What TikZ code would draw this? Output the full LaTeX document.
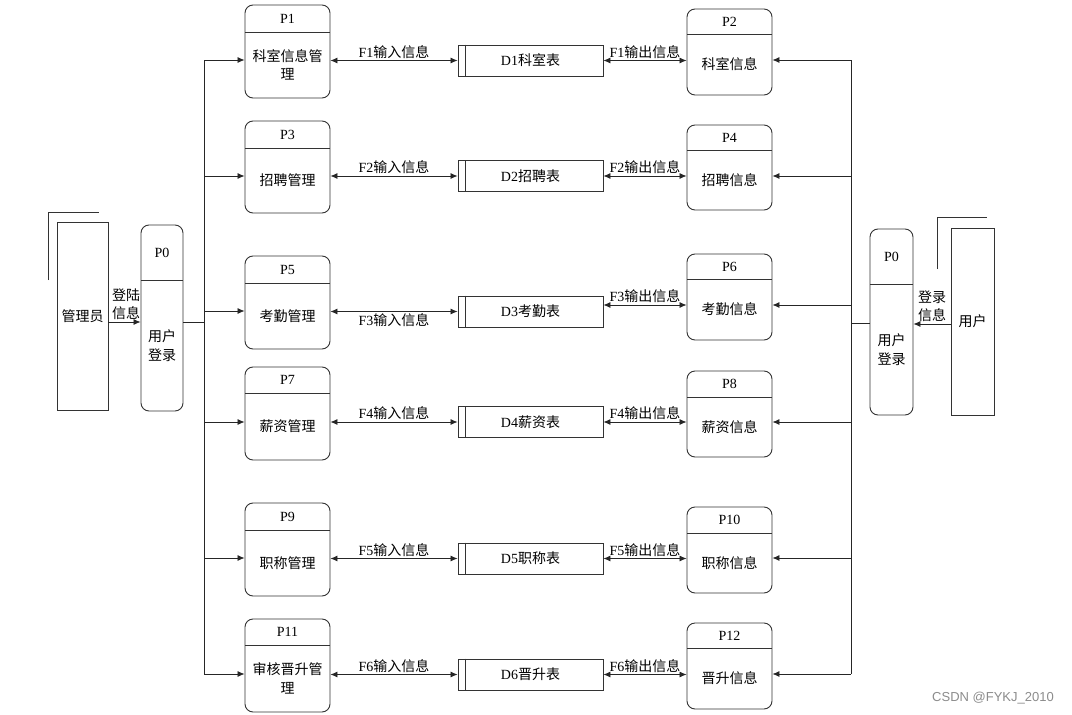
\documentclass[tikz,border=0pt]{standalone}
\usepackage{fontspec}
\setmainfont{Liberation Serif}
\newfontfamily\cjk{Noto Sans CJK SC}
\newfontfamily\wmfont{Liberation Sans}
\usetikzlibrary{arrows.meta}
\newcommand\zh[1]{{\cjk #1}}
\tikzset{
  boxline/.style={draw=black!80, line width=0.9pt},
  procbox/.style={boxline, rectangle, rounded corners=8pt, inner sep=0pt},
  extbox/.style={boxline, rectangle, inner sep=0pt},
  dstore/.style={boxline, rectangle, inner sep=0pt, minimum width=145pt, minimum height=31pt},
  ptitle/.style={inner sep=0pt},
  pbody/.style={inner sep=0pt, align=center},
  conn/.style={draw=black!85, line width=0.8pt},
  arr/.style={conn, -{Latex[length=7pt,width=6pt]}},
  biarr/.style={conn, {Latex[length=7pt,width=6pt]}-{Latex[length=7pt,width=6pt]}},
  lab/.style={inner sep=1.5pt, align=center},
}
\newcommand\ProcBox[8]{%
  \node[procbox, minimum width={(#4-#2)*1pt}, minimum height={(#5-#3)*1pt}] (#1) at ({(#2+#4)/2},{(#3+#5)/2}) {};
  \draw[boxline] (#2,#6) -- (#4,#6);
  \node[ptitle] (#1t) at ({(#2+#4)/2},{(#3+#6)/2}) {#7};
  \node[pbody] (#1b) at ({(#2+#4)/2},{(#6+#5)/2}) {#8};
}
\newcommand\DStore[4]{%
  \node[dstore] (#1) at (#2,#3) {#4};
  \draw[boxline] ([xshift=8pt]#1.north west) -- ([xshift=8pt]#1.south west);
}
\begin{document}
\begin{tikzpicture}[x=1pt,y=-1pt,font=\fontsize{14}{18.5}\selectfont]
\useasboundingbox[fill=white] (0,0) rectangle (1072,715);

% external entities
\node[extbox, minimum width=51pt, minimum height=188pt] (admin) at (82.5,316) {\zh{管理员}};
\draw[boxline] (48,280) -- (48,212) -- (99,212);
\node[extbox, minimum width=43pt, minimum height=187pt] (user) at (972.5,321.5) {\zh{用户}};
\draw[boxline] (937,269) -- (937,217) -- (987,217);

% login processes
\ProcBox{p0l}{141}{225}{183}{411}{280}{P0}{\zh{用户}\\\zh{登录}}
\ProcBox{p0r}{870}{229}{913}{415}{284}{P0}{\zh{用户}\\\zh{登录}}

% left processes
\ProcBox{p1}{245}{5}{330}{98}{32}{P1}{\zh{科室信息管}\\\zh{理}}
\ProcBox{p3}{245}{121}{330}{213}{148}{P3}{\zh{招聘管理}}
\ProcBox{p5}{245}{256}{330}{349}{283}{P5}{\zh{考勤管理}}
\ProcBox{p7}{245}{367}{330}{460}{393}{P7}{\zh{薪资管理}}
\ProcBox{p9}{245}{503}{330}{596}{530}{P9}{\zh{职称管理}}
\ProcBox{p11}{245}{619}{330}{712}{645}{P11}{\zh{审核晋升管}\\\zh{理}}

% right processes
\ProcBox{p2}{687}{9}{772}{95}{34}{P2}{\zh{科室信息}}
\ProcBox{p4}{687}{125}{772}{210}{150}{P4}{\zh{招聘信息}}
\ProcBox{p6}{687}{254}{772}{340}{279}{P6}{\zh{考勤信息}}
\ProcBox{p8}{687}{371}{772}{457}{397}{P8}{\zh{薪资信息}}
\ProcBox{p10}{687}{507}{772}{593}{533}{P10}{\zh{职称信息}}
\ProcBox{p12}{687}{623}{772}{709}{648}{P12}{\zh{晋升信息}}

% data stores
\DStore{d1}{530.5}{60.5}{D1\zh{科室表}}
\DStore{d2}{530.5}{176}{D2\zh{招聘表}}
\DStore{d3}{530.5}{311.5}{D3\zh{考勤表}}
\DStore{d4}{530.5}{422}{D4\zh{薪资表}}
\DStore{d5}{530.5}{558.5}{D5\zh{职称表}}
\DStore{d6}{530.5}{674.5}{D6\zh{晋升表}}

% login arrows
\coordinate (la) at (108,322);
\draw[arr] (la -| admin.east) -- node[lab, above, pos=0.55] {\zh{登陆}\\\zh{信息}} (la -| p0l.west);
\coordinate (ra) at (951,324);
\draw[arr] (ra -| user.west) -- node[lab, above, pos=0.5] {\zh{登录}\\\zh{信息}} (ra -| p0r.east);

% left trunk
\coordinate (lj) at (204,322);
\coordinate (lt1) at (204,60);
\coordinate (lt2) at (204,176);
\coordinate (lt3) at (204,311);
\coordinate (lt4) at (204,422);
\coordinate (lt5) at (204,558);
\coordinate (lt6) at (204,674);
\draw[conn] (lj -| p0l.east) -- (lj);
\draw[conn] (lt1) -- (lt6);
\draw[arr] (lt1) -- (lt1 -| p1.west);
\draw[arr] (lt2) -- (lt2 -| p3.west);
\draw[arr] (lt3) -- (lt3 -| p5.west);
\draw[arr] (lt4) -- (lt4 -| p7.west);
\draw[arr] (lt5) -- (lt5 -| p9.west);
\draw[arr] (lt6) -- (lt6 -| p11.west);

% right trunk
\coordinate (rj) at (851,323);
\coordinate (rt1) at (851,60);
\coordinate (rt2) at (851,176);
\coordinate (rt3) at (851,305);
\coordinate (rt4) at (851,422);
\coordinate (rt5) at (851,558);
\coordinate (rt6) at (851,674);
\draw[conn] (rj -| p0r.west) -- (rj);
\draw[conn] (rt1) -- (rt6);
\draw[arr] (rt1) -- (rt1 -| p2.east);
\draw[arr] (rt2) -- (rt2 -| p4.east);
\draw[arr] (rt3) -- (rt3 -| p6.east);
\draw[arr] (rt4) -- (rt4 -| p8.east);
\draw[arr] (rt5) -- (rt5 -| p10.east);
\draw[arr] (rt6) -- (rt6 -| p12.east);

% data flows
\draw[biarr] (d1.west -| p1.east) -- node[lab, above] {F1\zh{输入信息}} (d1.west);
\draw[biarr] (d1.east) -- node[lab, above] {F1\zh{输出信息}} (d1.east -| p2.west);
\draw[biarr] (d2.west -| p3.east) -- node[lab, above] {F2\zh{输入信息}} (d2.west);
\draw[biarr] (d2.east) -- node[lab, above] {F2\zh{输出信息}} (d2.east -| p4.west);
\draw[biarr] (d3.west -| p5.east) -- node[lab, below] {F3\zh{输入信息}} (d3.west);
\draw[biarr] ([yshift=6.5pt]d3.east) -- node[lab, above] {F3\zh{输出信息}} ([yshift=6.5pt]d3.east -| p6.west);
\draw[biarr] (d4.west -| p7.east) -- node[lab, above] {F4\zh{输入信息}} (d4.west);
\draw[biarr] (d4.east) -- node[lab, above] {F4\zh{输出信息}} (d4.east -| p8.west);
\draw[biarr] (d5.west -| p9.east) -- node[lab, above] {F5\zh{输入信息}} (d5.west);
\draw[biarr] (d5.east) -- node[lab, above] {F5\zh{输出信息}} (d5.east -| p10.west);
\draw[biarr] (d6.west -| p11.east) -- node[lab, above] {F6\zh{输入信息}} (d6.west);
\draw[biarr] (d6.east) -- node[lab, above] {F6\zh{输出信息}} (d6.east -| p12.west);

% watermark
\node[inner sep=0pt, text=black!45, font=\wmfont\fontsize{13}{15}\selectfont] (wm) at (993,698) {CSDN @FYKJ\_2010};
\end{tikzpicture}
\end{document}
